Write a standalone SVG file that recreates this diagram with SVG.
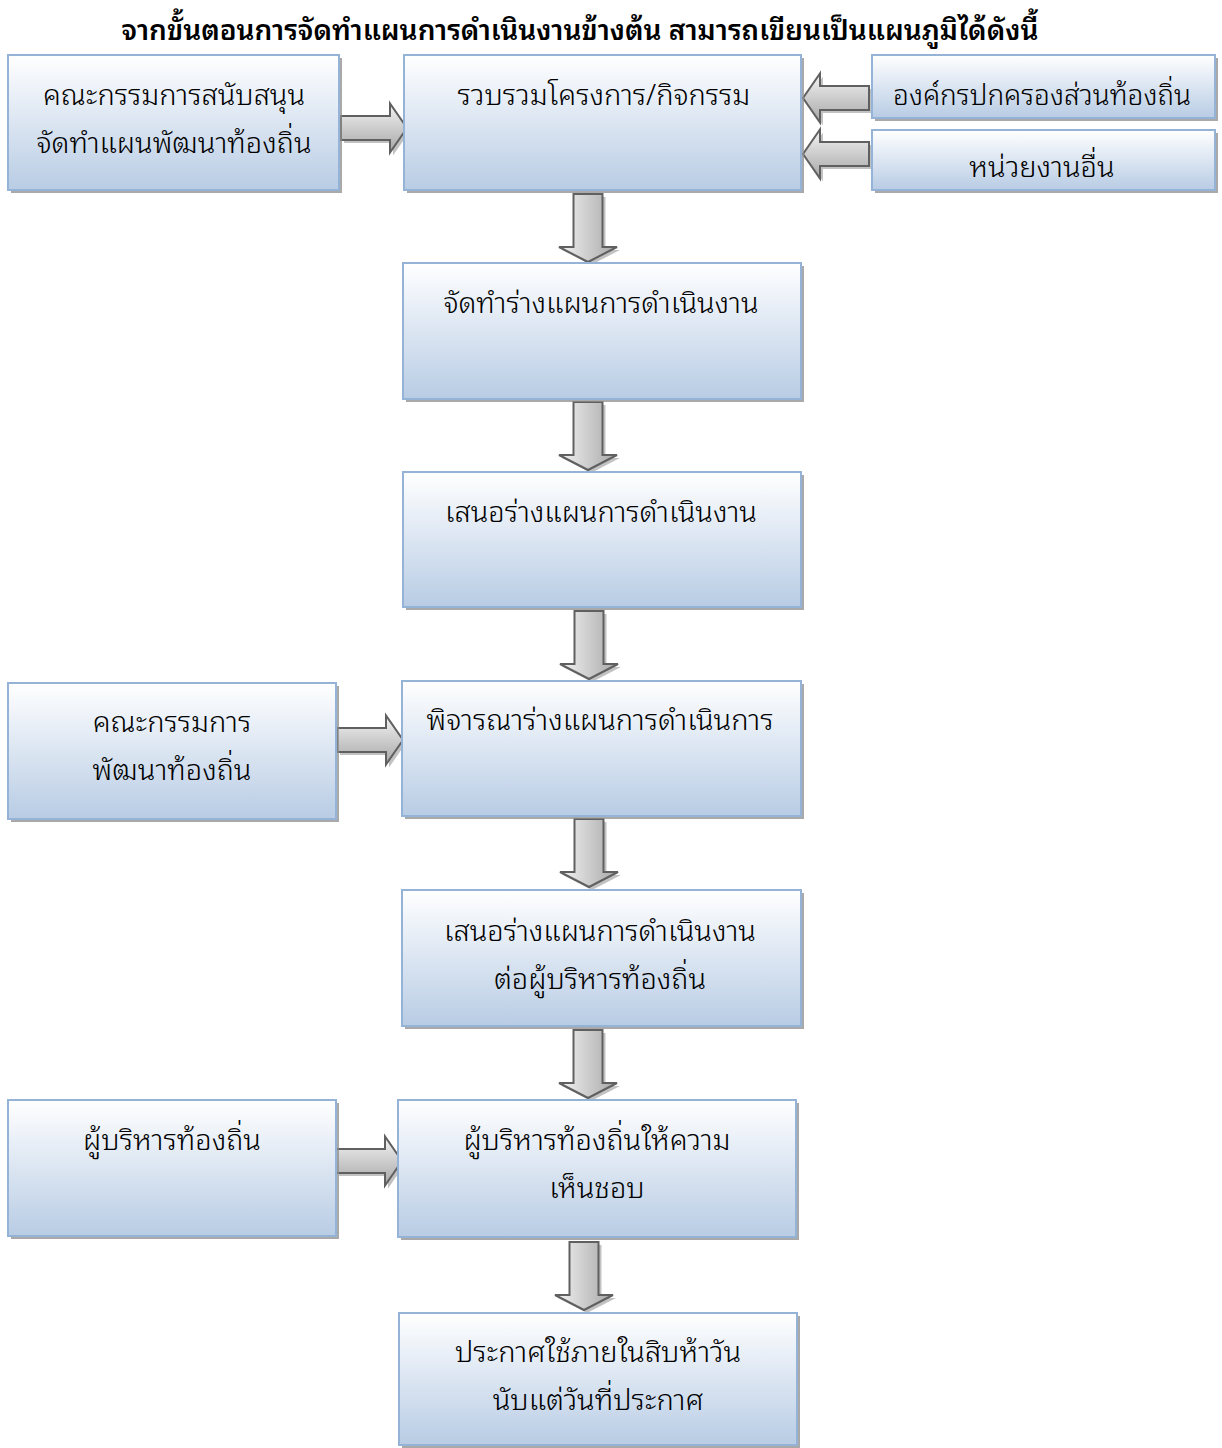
<svg xmlns="http://www.w3.org/2000/svg" xmlns:xlink="http://www.w3.org/1999/xlink" width="1222" height="1448" viewBox="0 0 1222 1448">
<defs>
<linearGradient id="boxg" x1="0" y1="0" x2="0" y2="1">
<stop offset="0" stop-color="#ffffff"/>
<stop offset="0.35" stop-color="#e6edf6"/>
<stop offset="1" stop-color="#b8cce4"/>
</linearGradient>
<linearGradient id="arrH" x1="0" y1="0" x2="0" y2="1">
<stop offset="0" stop-color="#f4f4f4"/>
<stop offset="1" stop-color="#a6a6a6"/>
</linearGradient>
<linearGradient id="arrV" x1="0" y1="0" x2="1" y2="0">
<stop offset="0" stop-color="#f4f4f4"/>
<stop offset="1" stop-color="#a6a6a6"/>
</linearGradient>
<path id="rightArrow" d="M0,-12 H49 V-24.5 L66,0 L49,24.5 V12 H0 Z"/>
<path id="leftArrow" d="M0,-12 H-49 V-24.5 L-66,0 L-49,24.5 V12 H0 Z"/>
<path id="downArrow" d="M-14.5,0 V53 H-29 L0,68 L29,53 H14.5 V0 Z"/>
</defs>
<style>
.box{fill:url(#boxg);stroke:#95b3d7;stroke-width:2}
.shadow{fill:#8c8c8c;opacity:0.75}
.t{font-family:"Noto Sans Thai Looped","Noto Sans Thai","Noto Sans","DejaVu Sans",sans-serif;font-size:29px;font-weight:300;fill:#000;text-anchor:middle}
.title{font-family:"Noto Sans Thai Looped","Noto Sans Thai","Noto Sans","DejaVu Sans",sans-serif;font-size:28px;font-weight:600;fill:#000;text-anchor:middle}
.ah{fill:url(#arrH);stroke:#606060;stroke-width:2;stroke-linejoin:miter}
.av{fill:url(#arrV);stroke:#606060;stroke-width:2;stroke-linejoin:miter}
.as{fill:#9a9a9a;opacity:0.6}
</style>
<rect width="1222" height="1448" fill="#ffffff"/>
<text class="title" x="580" y="40">จากขั้นตอนการจัดทำแผนการดำเนินงานข้างต้น สามารถเขียนเป็นแผนภูมิได้ดังนี้</text>

<g id="connectors">
<g transform="translate(341,128)"><use href="#rightArrow" class="as" transform="translate(3,3)"/><use href="#rightArrow" class="ah"/></g>
<g transform="translate(869,98)"><use href="#leftArrow" class="as" transform="translate(3,3)"/><use href="#leftArrow" class="ah"/></g>
<g transform="translate(869,154)"><use href="#leftArrow" class="as" transform="translate(3,3)"/><use href="#leftArrow" class="ah"/></g>
<g transform="translate(588,194)"><use href="#downArrow" class="as" transform="translate(3,3)"/><use href="#downArrow" class="av"/></g>
<g transform="translate(588,402)"><use href="#downArrow" class="as" transform="translate(3,3)"/><use href="#downArrow" class="av"/></g>
<g transform="translate(589,611)"><use href="#downArrow" class="as" transform="translate(3,3)"/><use href="#downArrow" class="av"/></g>
<g transform="translate(589,819)"><use href="#downArrow" class="as" transform="translate(3,3)"/><use href="#downArrow" class="av"/></g>
<g transform="translate(588,1030)"><use href="#downArrow" class="as" transform="translate(3,3)"/><use href="#downArrow" class="av"/></g>
<g transform="translate(584,1242)"><use href="#downArrow" class="as" transform="translate(3,3)"/><use href="#downArrow" class="av"/></g>
<g transform="translate(337,740)"><use href="#rightArrow" class="as" transform="translate(3,3)"/><use href="#rightArrow" class="ah"/></g>
<g transform="translate(336,1161)"><use href="#rightArrow" class="as" transform="translate(3,3)"/><use href="#rightArrow" class="ah"/></g>
</g>

<g id="nodeA">
<rect class="shadow" x="11" y="58" width="331" height="135"/>
<rect class="box" x="8" y="55" width="331" height="135"/>
<text class="t" x="174" y="105">คณะกรรมการสนับสนุน</text>
<text class="t" x="174" y="153">จัดทำแผนพัฒนาท้องถิ่น</text>
</g>
<g id="nodeB">
<rect class="shadow" x="407" y="58" width="397" height="135"/>
<rect class="box" x="404" y="55" width="397" height="135"/>
<text class="t" x="604" y="105">รวบรวมโครงการ/กิจกรรม</text>
</g>
<g id="nodeC">
<rect class="shadow" x="875" y="58" width="343" height="63"/>
<rect class="box" x="872" y="55" width="343" height="63"/>
<text class="t" x="1042" y="105" style="font-size:28px">องค์กรปกครองส่วนท้องถิ่น</text>
</g>
<g id="nodeD">
<rect class="shadow" x="875" y="133" width="343" height="60"/>
<rect class="box" x="872" y="130" width="343" height="60"/>
<text class="t" x="1042" y="177">หน่วยงานอื่น</text>
</g>
<g id="nodeE">
<rect class="shadow" x="406" y="266" width="398" height="136"/>
<rect class="box" x="403" y="263" width="398" height="136"/>
<text class="t" x="601" y="313">จัดทำร่างแผนการดำเนินงาน</text>
</g>
<g id="nodeF">
<rect class="shadow" x="406" y="475" width="398" height="135"/>
<rect class="box" x="403" y="472" width="398" height="135"/>
<text class="t" x="601" y="522">เสนอร่างแผนการดำเนินงาน</text>
</g>
<g id="nodeG">
<rect class="shadow" x="405" y="684" width="399" height="135"/>
<rect class="box" x="402" y="681" width="399" height="135"/>
<text class="t" x="600" y="730">พิจารณาร่างแผนการดำเนินการ</text>
</g>
<g id="nodeH">
<rect class="shadow" x="11" y="686" width="328" height="136"/>
<rect class="box" x="8" y="683" width="328" height="136"/>
<text class="t" x="172" y="732">คณะกรรมการ</text>
<text class="t" x="172" y="780">พัฒนาท้องถิ่น</text>
</g>
<g id="nodeI">
<rect class="shadow" x="405" y="893" width="399" height="136"/>
<rect class="box" x="402" y="890" width="399" height="136"/>
<text class="t" x="600" y="941">เสนอร่างแผนการดำเนินงาน</text>
<text class="t" x="600" y="989">ต่อผู้บริหารท้องถิ่น</text>
</g>
<g id="nodeJ">
<rect class="shadow" x="401" y="1103" width="398" height="137"/>
<rect class="box" x="398" y="1100" width="398" height="137"/>
<text class="t" x="597" y="1150">ผู้บริหารท้องถิ่นให้ความ</text>
<text class="t" x="597" y="1198">เห็นชอบ</text>
</g>
<g id="nodeK">
<rect class="shadow" x="11" y="1103" width="328" height="136"/>
<rect class="box" x="8" y="1100" width="328" height="136"/>
<text class="t" x="172" y="1150">ผู้บริหารท้องถิ่น</text>
</g>
<g id="nodeL">
<rect class="shadow" x="402" y="1316" width="398" height="132"/>
<rect class="box" x="399" y="1313" width="398" height="132"/>
<text class="t" x="598" y="1362">ประกาศใช้ภายในสิบห้าวัน</text>
<text class="t" x="598" y="1410">นับแต่วันที่ประกาศ</text>
</g>
</svg>
